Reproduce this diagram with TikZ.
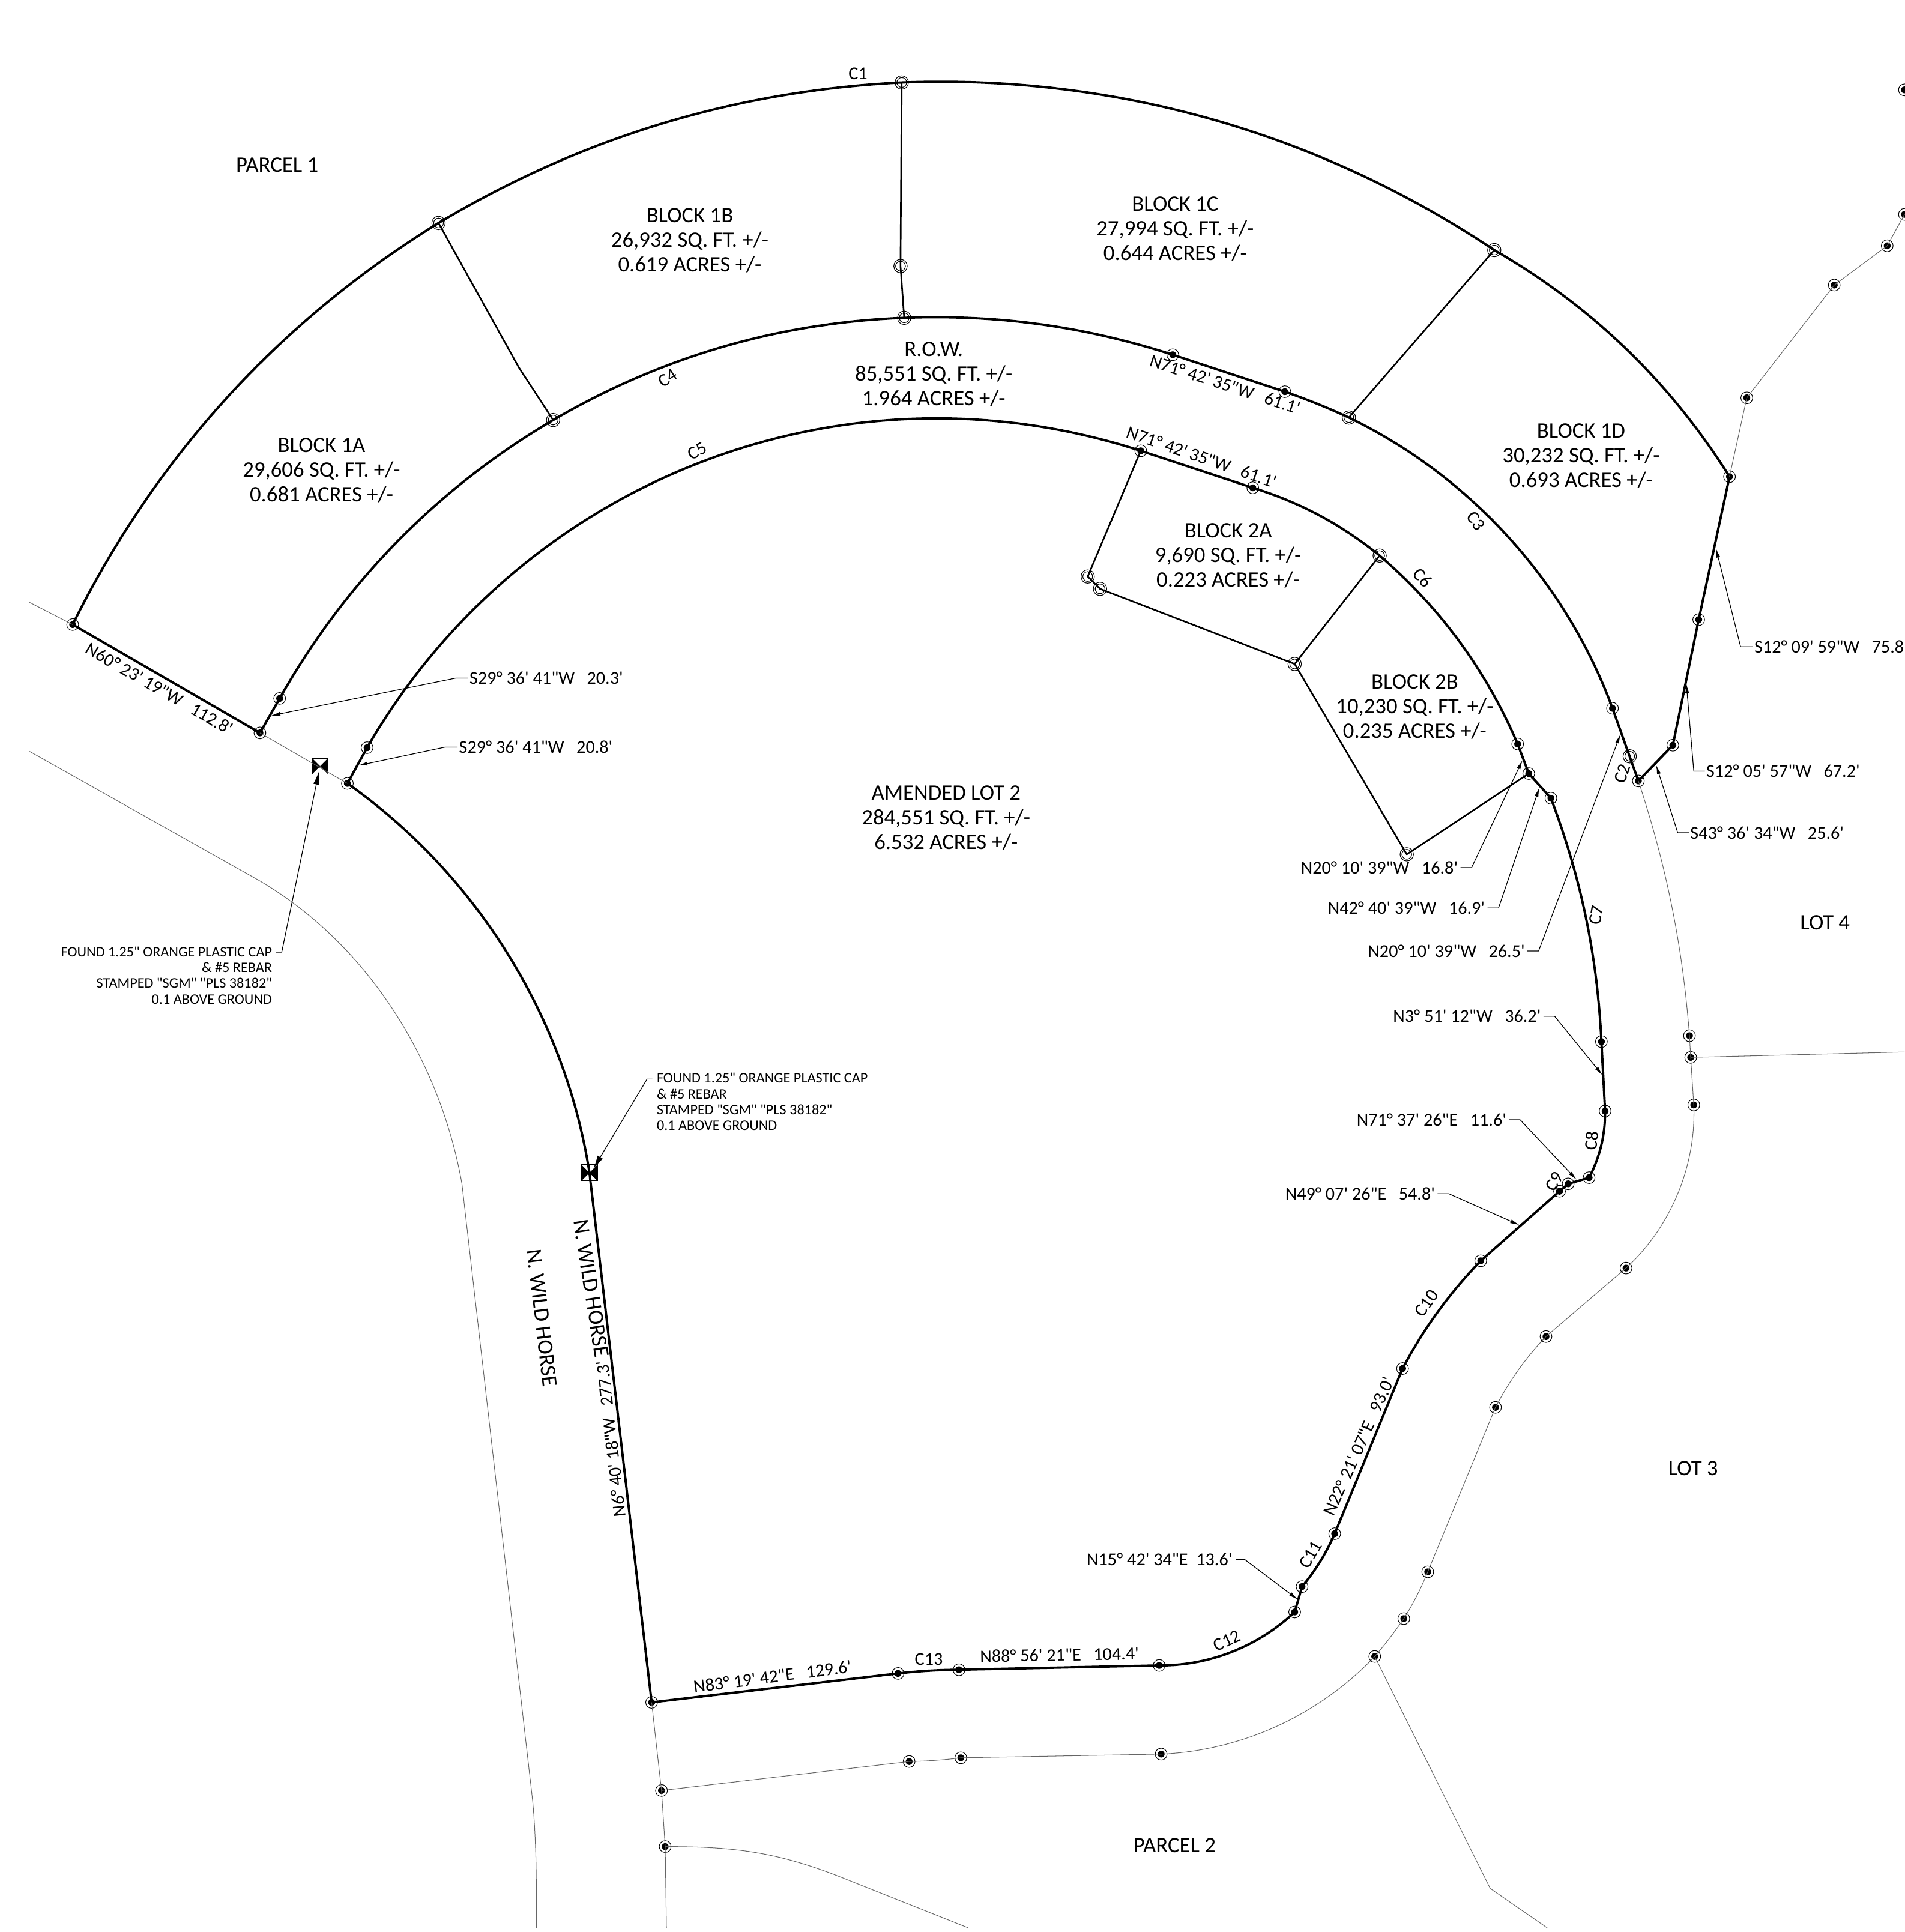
\documentclass[tikz,border=0pt]{standalone}
\usepackage{fontspec}
\usepackage{tikz}
\usetikzlibrary{arrows.meta}
\newfontfamily\platfont{Carlito}
\tikzset{
  pindot/.style={circle,draw=black,line width=.5pt,inner sep=0pt,minimum size=9.6pt,
    path picture={\fill (path picture bounding box.center) circle (2.8pt);}},
  pinopen/.style={circle,draw=black,line width=.6pt,double,double distance=.8pt,inner sep=0pt,minimum size=9.4pt},
  bowtie/.style={rectangle,draw=black,line width=.8pt,inner sep=0pt,minimum size=13pt,
    path picture={\fill (path picture bounding box.north west) -- (path picture bounding box.center) -- (path picture bounding box.south west) -- cycle;
      \fill (path picture bounding box.north east) -- (path picture bounding box.center) -- (path picture bounding box.south east) -- cycle;}},
  boundline/.style={line width=1.9pt,line join=round,looseness=.88},
  divline/.style={line width=1.3pt,line join=round},
  grayline/.style={line width=.5pt,draw=black!60,line join=round,looseness=.88},
  leaderline/.style={line width=.6pt,-{Latex[length=7.6pt,width=3.2pt]}},
  capleader/.style={line width=.6pt,-{Latex[length=11pt,width=5pt]}},
  blocktext/.style={font=\platfont\fontsize{17.9}{20}\selectfont,align=center,inner sep=0pt},
  dimtext/.style={font=\platfont\fontsize{14.7}{16}\selectfont,inner sep=0pt},
  notetext/.style={font=\platfont\fontsize{11.8}{12.75}\selectfont,inner sep=0pt}
}
\begin{document}
\begin{tikzpicture}[x=1pt,y=1pt]
\useasboundingbox (0,0) rectangle (1546,-1568.4);

\node [pindot] (oa) at (59,-507) {};
\node [pinopen] (ob) at (356,-181) {};
\node [pinopen] (oc) at (732,-67) {};
\node [pinopen] (od) at (1213,-203) {};
\node [pindot] (oe) at (1404,-387) {};
\node [pinopen] (bc) at (731,-216) {};
\node [pindot] (ma) at (211,-595) {};
\node [pindot] (mb) at (227,-567) {};
\node [pinopen] (mc) at (449,-341) {};
\node [pinopen] (md) at (734,-258) {};
\node [pindot] (me) at (952,-288) {};
\node [pindot] (mf) at (1043,-318) {};
\node [pinopen] (mg) at (1095,-339) {};
\node [pindot] (mh) at (1309,-575) {};
\node [pinopen] (mi) at (1323,-614) {};
\node [pindot] (mj) at (1330,-634) {};
\node [pindot] (ra) at (1358,-605) {};
\node [pindot] (rb) at (1379,-503) {};
\node [pindot] (ia) at (282,-636) {};
\node [pindot] (ib) at (298,-607) {};
\node [pindot] (ic) at (926,-366) {};
\node [pindot] (id) at (1017,-396) {};
\node [pinopen] (ie) at (1120,-451) {};
\node [pindot] (if) at (1232,-604) {};
\node [pindot] (ig) at (1241,-628) {};
\node [pindot] (ih) at (1259,-648) {};
\node [pindot] (ii) at (1300,-845.6) {};
\node [pindot] (ij) at (1303,-902) {};
\node [pindot] (ik) at (1290,-956) {};
\node [pindot] (il) at (1273,-961) {};
\node [pindot] (im) at (1266,-967) {};
\node [pindot] (in) at (1202,-1023.5) {};
\node [pindot] (io) at (1138.6,-1111) {};
\node [pindot] (ip) at (1083.5,-1245) {};
\node [pindot] (iq) at (1057,-1288) {};
\node [pindot] (ir) at (1051,-1308.6) {};
\node [pindot] (is) at (941,-1352) {};
\node [pindot] (it) at (778.5,-1355.5) {};
\node [pindot] (iu) at (729,-1358.5) {};
\node [pindot] (iv) at (529,-1382) {};
\node [pinopen] (ba) at (883,-468) {};
\node [pinopen] (bb) at (893,-478) {};
\node [pinopen] (bd) at (1051,-539) {};
\node [pinopen] (be) at (1142,-693.5) {};
\node [pindot] (ga) at (537,-1453.5) {};
\node [pindot] (gb) at (540,-1499) {};
\node [pindot] (gc) at (738,-1430) {};
\node [pindot] (gd) at (780,-1427) {};
\node [pindot] (ge) at (942.6,-1424) {};
\node [pindot] (gf) at (1116,-1344.7) {};
\node [pindot] (gg) at (1139.6,-1314) {};
\node [pindot] (gh) at (1159,-1276) {};
\node [pindot] (gi) at (1214,-1142.5) {};
\node [pindot] (gj) at (1255,-1085) {};
\node [pindot] (gk) at (1320,-1029.4) {};
\node [pindot] (gl) at (1375,-897) {};
\node [pindot] (gm) at (1372.5,-858.4) {};
\node [pindot] (gn) at (1371.5,-840.8) {};
\node [pindot] (ta) at (1418,-323) {};
\node [pindot] (tb) at (1489,-231.4) {};
\node [pindot] (tc) at (1532,-199.5) {};
\node [pindot] (td) at (1546,-174) {};
\node [pindot] (te) at (1546,-73) {};
\coordinate (ga0) at (24,-489);
\coordinate (gb0) at (541,-1565);
\coordinate (gc0) at (1546,-854);
\coordinate (gd0) at (688,-1526);
\coordinate (gd1) at (786,-1565);
\coordinate (ge0) at (1209.7,-1533);
\coordinate (ge1) at (1256,-1565);
\coordinate (ra0) at (24,-610);
\coordinate (ra1) at (209,-714);
\coordinate (ra2) at (375,-961);
\coordinate (ra3) at (432.5,-1463);
\coordinate (ra4) at (435.5,-1565);
\coordinate (da) at (421,-298);

\node [bowtie] (capa) at (259.8,-622) {};
\node [bowtie] (capb) at (478.5,-952) {};

\draw [boundline] (oa.center) to[bend left=16] (ob.center) to[bend left=14] (oc.center) to[bend left=18] (od.center) to[bend left=14] (oe.center) -- (rb.center) -- (ra.center) -- (mj.center) -- (mh.center) to[bend right=22] (mg.center) to[bend right=3] (mf.center) -- (me.center) to[bend right=10] (md.center) to[bend right=14] (mc.center) to[bend right=15] (mb.center) -- (ma.center) -- (oa.center);
\draw [boundline] (ib.center) to[bend left=39,looseness=.96] (ic.center) -- (id.center) to[bend left=11] (ie.center) to[bend left=13] (if.center) -- (ig.center) -- (ih.center) to[bend left=9] (ii.center) -- (ij.center) to[bend left=14] (ik.center) -- (il.center) -- (im.center) -- (in.center) to[bend right=8] (io.center) -- (ip.center) to[bend left=8] (iq.center) -- (ir.center) to[bend left=22] (is.center) -- (it.center) to[bend right=3] (iu.center) -- (iv.center) -- (capb.center) to[bend right=23] (ia.center) -- (ib.center);
\draw [divline] (ob.center) -- (da) -- (mc.center);
\draw [divline] (oc.center) -- (bc.center) -- (md.center);
\draw [divline] (od.center) -- (mg.center);
\draw [divline] (ic.center) -- (ba.center) -- (bb.center) -- (bd.center) -- (ie.center);
\draw [divline] (bd.center) -- (be.center) -- (ig.center);

\draw [grayline] (ga0) -- (oa.center);
\draw [grayline] (ma.center) -- (ia.center);
\draw [grayline] (ra0) -- (ra1) to[out=-30,in=100] (ra2) -- (ra3) to[out=-85,in=90] (ra4);
\draw [grayline] (iv.center) -- (ga.center) -- (gb.center) -- (gb0);
\draw [grayline] (ga.center) -- (gc.center) to[bend right=3] (gd.center) -- (ge.center) to[bend right=22] (gf.center) to[bend right=3] (gg.center) to[bend right=5] (gh.center) -- (gi.center) to[bend left=8] (gj.center) -- (gk.center) to[bend right=25] (gl.center) -- (gm.center) -- (gn.center) to[bend right=7] (mj.center);
\draw [grayline] (gb.center) to[out=0,in=158,looseness=1] (gd0) -- (gd1);
\draw [grayline] (gf.center) -- (ge0) -- (ge1);
\draw [grayline] (gm.center) -- (gc0);
\draw [grayline] (oe.center) -- (ta.center) -- (tb.center) -- (tc.center) -- (td.center);

\node [blocktext] (parcela) at (225,-134) {PARCEL 1};
\node [blocktext] (blocka) at (261,-382) {BLOCK 1A\\29,606 SQ. FT. +/-\\0.681 ACRES +/-};
\node [blocktext] (blockb) at (560,-195) {BLOCK 1B\\26,932 SQ. FT. +/-\\0.619 ACRES +/-};
\node [blocktext] (blockc) at (954,-186) {BLOCK 1C\\27,994 SQ. FT. +/-\\0.644 ACRES +/-};
\node [blocktext] (blockd) at (1283.5,-370) {BLOCK 1D\\30,232 SQ. FT. +/-\\0.693 ACRES +/-};
\node [blocktext] (row) at (758,-304) {R.O.W.\\85,551 SQ. FT. +/-\\1.964 ACRES +/-};
\node [blocktext] (blocke) at (997,-451) {BLOCK 2A\\9,690 SQ. FT. +/-\\0.223 ACRES +/-};
\node [blocktext] (blockf) at (1148.5,-574) {BLOCK 2B\\10,230 SQ. FT. +/-\\0.235 ACRES +/-};
\node [blocktext] (lottwo) at (768,-664) {AMENDED LOT 2\\284,551 SQ. FT. +/-\\6.532 ACRES +/-};
\node [blocktext] (lotfour) at (1481.5,-749) {LOT 4};
\node [blocktext] (lotthree) at (1374.5,-1192) {LOT 3};
\node [blocktext] (parcelb) at (953.5,-1498) {PARCEL 2};
\node [blocktext,rotate=-83] (horsea) at (440,-1070) {N. WILD HORSE};
\node [blocktext,rotate=-81] (horseb) at (480,-1046) {N. WILD HORSE};

\node [dimtext,rotate=-30] (dima) at (129.5,-559) {N60° 23' 19"W~~~112.8'};
\node [dimtext,rotate=-18] (dimb) at (994.5,-312) {N71° 42' 35"W~~~61.1'};
\node [dimtext,rotate=-19] (dimc) at (975.5,-371) {N71° 42' 35"W~~~61.1'};
\node [dimtext,rotate=96.5] (dimd) at (496,-1168) {N6° 40' 18"W~~~277.3'};
\node [dimtext,rotate=66] (dime) at (1103,-1174) {N22° 21' 07"E~~~93.0'};
\node [dimtext,rotate=7.5] (dimf) at (627,-1361) {N83° 19' 42"E~~~129.6'};
\node [dimtext,rotate=1] (dimg) at (860,-1343.5) {N88° 56' 21"E~~~104.4'};

\node [dimtext] (cone) at (696.5,-60) {C1};
\node [dimtext,rotate=72] (ctwo) at (1317,-628) {C2};
\node [dimtext,rotate=-55] (cthree) at (1198,-423) {C3};
\node [dimtext,rotate=33] (cfour) at (542,-307) {C4};
\node [dimtext,rotate=30] (cfive) at (566,-366) {C5};
\node [dimtext,rotate=-47] (csix) at (1155,-469) {C6};
\node [dimtext,rotate=80] (cseven) at (1296,-743) {C7};
\node [dimtext,rotate=85] (ceight) at (1292,-926) {C8};
\node [dimtext,rotate=60] (cnine) at (1262,-959) {C9};
\node [dimtext,rotate=55] (cten) at (1158,-1058) {C10};
\node [dimtext,rotate=60] (celeven) at (1064,-1262) {C11};
\node [dimtext,rotate=25] (ctwelve) at (996,-1332) {C12};
\node [dimtext] (cthirteen) at (754,-1347) {C13};

\node [dimtext,anchor=west] (lbla) at (381,-550.5) {S29° 36' 41"W~~~20.3'};
\node [dimtext,anchor=west] (lblb) at (372.5,-606.5) {S29° 36' 41"W~~~20.8'};
\node [dimtext,anchor=east] (lblc) at (1183.6,-704.3) {N20° 10' 39"W~~~16.8'};
\node [dimtext,anchor=east] (lbld) at (1205.5,-737) {N42° 40' 39"W~~~16.9'};
\node [dimtext,anchor=east] (lble) at (1238,-772) {N20° 10' 39"W~~~26.5'};
\node [dimtext,anchor=east] (lblf) at (1251,-825) {N3° 51' 12"W~~~36.2'};
\node [dimtext,anchor=east] (lblg) at (1223,-909) {N71° 37' 26"E~~~11.6'};
\node [dimtext,anchor=east] (lblh) at (1165,-969) {N49° 07' 26"E~~~54.8'};
\node [dimtext,anchor=east] (lbli) at (1000.5,-1266) {N15° 42' 34"E~~13.6'};
\node [dimtext,anchor=west] (lblj) at (1372,-676) {S43° 36' 34"W~~~25.6'};
\node [dimtext,anchor=west] (lblk) at (1385,-626) {S12° 05' 57"W~~~67.2'};
\node [dimtext,anchor=west] (lbll) at (1424,-525) {S12° 09' 59"W~~~75.8};
\node [notetext,anchor=north east,align=right] (notea) at (221,-768.5) {FOUND 1.25" ORANGE PLASTIC CAP\\\& \#5 REBAR\\STAMPED "SGM" "PLS 38182"\\0.1 ABOVE GROUND};
\node [notetext,anchor=north west,align=left] (noteb) at (533,-871) {FOUND 1.25" ORANGE PLASTIC CAP\\\& \#5 REBAR\\STAMPED "SGM" "PLS 38182"\\0.1 ABOVE GROUND};

\coordinate (tipa) at (220,-581);
\coordinate (tipb) at (290.7,-621.5);
\coordinate (tipc) at (1236,-617);
\coordinate (tipd) at (1249.7,-639.3);
\coordinate (tipe) at (1315.5,-596);
\coordinate (tipf) at (1301,-873);
\coordinate (tipg) at (1280,-957.8);
\coordinate (tiph) at (1233.5,-994.5);
\coordinate (tipi) at (1053.7,-1298.6);
\coordinate (tipj) at (1344.4,-621);
\coordinate (tipk) at (1369,-555);
\coordinate (tipl) at (1393,-445);
\coordinate (tipm) at (259,-626);
\coordinate (tipn) at (481.6,-948.8);
\coordinate (elba) at (224,-773);
\coordinate (elbb) at (529.6,-876);

\draw [leaderline] (lbla.west) ++(-1,0) -- ++(-10,0) -- (tipa);
\draw [leaderline] (lblb.west) ++(-1,0) -- ++(-10,0) -- (tipb);
\draw [leaderline] (lblc.east) ++(2,0) -- ++(9,0) -- (tipc);
\draw [leaderline] (lbld.east) ++(2,0) -- ++(9,0) -- (tipd);
\draw [leaderline] (lble.east) ++(2,0) -- ++(9,0) -- (tipe);
\draw [leaderline] (lblf.east) ++(2,0) -- ++(9,0) -- (tipf);
\draw [leaderline] (lblg.east) ++(2,0) -- ++(9,0) -- (tipg);
\draw [leaderline] (lblh.east) ++(2,0) -- ++(9,0) -- (tiph);
\draw [leaderline] (lbli.east) ++(3,0) -- ++(7,0) -- (tipi);
\draw [leaderline] (lblj.west) ++(-1,0) -- ++(-9,0) -- (tipj);
\draw [leaderline] (lblk.west) ++(-1,0) -- ++(-9,0) -- (tipk);
\draw [leaderline] (lbll.west) ++(-1,0) -- ++(-10,0) -- (tipl);
\draw [capleader] (elba) -- ++(4.7,0) -- (tipm);
\draw [capleader] (elbb) -- ++(-4.3,0) -- (tipn);
\end{tikzpicture}
\end{document}
